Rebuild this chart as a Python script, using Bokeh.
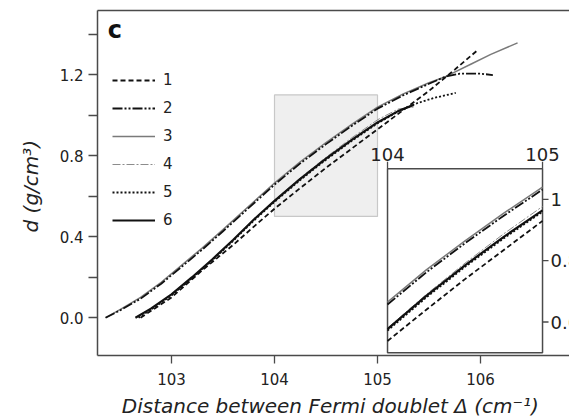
from bokeh.plotting import figure
from bokeh.models import (Range1d, LinearAxis, FixedTicker, PrintfTickFormatter,
                          Legend, LegendItem, Label)
from bokeh.embed import file_html
from bokeh.resources import INLINE
import math

# ---------------- data ----------------
x_up = [102.36, 102.5, 102.7, 102.9, 103.1, 103.3, 103.5, 103.75, 104.0, 104.25, 104.5, 104.75, 105.0, 105.25, 105.5, 105.66]
d3_core = [0.000, 0.040, 0.100, 0.175, 0.260, 0.345, 0.435, 0.550, 0.665, 0.770, 0.865, 0.955, 1.040, 1.105, 1.160, 1.190]
x3_tail = [105.9, 106.1, 106.36]
d3_tail = [1.250, 1.300, 1.357]
d2_core = [0.000, 0.036, 0.094, 0.168, 0.252, 0.337, 0.427, 0.542, 0.657, 0.762, 0.857, 0.947, 1.032, 1.098, 1.155, 1.190]
x2_tail = [105.8, 106.0, 106.12]
d2_tail = [1.205, 1.205, 1.198]

x_low = [102.65, 102.8, 103.0, 103.2, 103.4, 103.6, 103.8, 104.0, 104.25, 104.5, 104.75, 105.0, 105.2, 105.35]
d6 = [0.000, 0.045, 0.115, 0.200, 0.290, 0.385, 0.485, 0.577, 0.685, 0.785, 0.878, 0.964, 1.020, 1.050]
d4 = [0.000, 0.045, 0.115, 0.200, 0.290, 0.385, 0.485, 0.580, 0.690, 0.792, 0.888, 0.977, 1.030, 1.040]

x5 = [102.68, 102.8, 103.0, 103.2, 103.4, 103.6, 103.8, 104.0, 104.25, 104.5, 104.75, 105.0, 105.2, 105.39, 105.55, 105.76]
d5 = [0.000, 0.040, 0.110, 0.195, 0.285, 0.380, 0.480, 0.572, 0.680, 0.780, 0.873, 0.960, 1.018, 1.060, 1.085, 1.110]

x1 = [102.7, 103.0, 103.3, 103.6, 103.8, 104.0, 104.25, 104.5, 104.75, 105.0, 105.25, 105.5, 105.75, 105.97]
d1 = [0.000, 0.100, 0.235, 0.360, 0.450, 0.538, 0.640, 0.740, 0.835, 0.930, 1.025, 1.120, 1.225, 1.320]

labels = ["1", "2", "3", "4", "5", "6"]
x_ticks = [103, 104, 105, 106]
y_ticks = [0.0, 0.4, 0.8, 1.2]
y_minor = [0.2, 0.6, 1.0, 1.4]
zoom_x = [104.0, 105.0]
zoom_y = [0.5, 1.1]
inset_x_ticks = [104, 105]
inset_x_labels = ["104", "105"]
inset_y_ticks = [0.6, 0.8, 1.0]
inset_y_labels = ["0.6", "0.8", "1"]

FONT = "DejaVu Sans"
AX = "#4a4a4a"
TXT = "#222222"

p = figure(width=569, height=420, x_range=Range1d(102.2816, 106.864),
           y_range=Range1d(-0.1865, 1.5166), output_backend="svg",
           toolbar_location=None, min_border_left=97, min_border_right=0,
           min_border_top=10, min_border_bottom=63,
           x_axis_location=None, y_axis_location=None)
p.grid.visible = False
p.outline_line_color = None
p.background_fill_color = "white"
p.extra_x_ranges = {"ix": Range1d(102.129, 105.174)}
p.extra_y_ranges = {"iy": Range1d(0.4907, 1.6164)}

def style_axis(ax):
    ax.axis_line_color = AX
    ax.axis_line_width = 1.5
    ax.major_tick_line_color = AX
    ax.minor_tick_line_color = AX
    ax.major_tick_line_width = 1.3
    ax.minor_tick_line_width = 1.3
    ax.major_tick_in = 0
    ax.minor_tick_in = 0
    ax.major_label_text_font = FONT
    ax.major_label_text_font_size = "15px"
    ax.major_label_text_color = TXT
    ax.axis_label_text_font = FONT
    ax.axis_label_text_font_size = "20px"
    ax.axis_label_text_font_style = "italic"
    ax.axis_label_text_color = TXT

xa = LinearAxis(ticker=FixedTicker(ticks=x_ticks),
                axis_label="Distance between Fermi doublet  \u0394 (cm\u207b\u00b9)")
style_axis(xa)
xa.major_tick_out = 8
xa.major_label_standoff = 9
xa.axis_label_standoff = 6
p.add_layout(xa, "below")

ya = LinearAxis(ticker=FixedTicker(ticks=y_ticks, minor_ticks=y_minor),
                formatter=PrintfTickFormatter(format="%.1f"),
                axis_label="d  (g/cm\u00b3)")
style_axis(ya)
ya.major_tick_out = 9
ya.minor_tick_out = 9
ya.major_label_standoff = 5
ya.axis_label_standoff = 14
p.add_layout(ya, "left")

ta = LinearAxis(ticker=FixedTicker(ticks=[]))
style_axis(ta)
ta.major_tick_out = 0
ta.minor_tick_out = 0
ta.major_label_standoff = 0
p.add_layout(ta, "above")

# grey zoom region
p.quad(left=[zoom_x[0]], right=[zoom_x[1]], bottom=[zoom_y[0]], top=[zoom_y[1]],
       fill_color="#efefef", line_color="#c8c8c8", line_width=1.2)

styles = {
    "1": dict(line_color="#111111", line_width=1.8, line_dash="5 3"),
    "2": dict(line_color="#111111", line_width=1.8, line_dash="10 2 2 2 2 2"),
    "3": dict(line_color="#7a7a7a", line_width=1.5),
    "4": dict(line_color="#8c8c8c", line_width=1.0, line_dash="8 2 2 2"),
    "5": dict(line_color="#111111", line_width=1.8, line_dash="2 2"),
    "6": dict(line_color="#111111", line_width=2.2),
}

series = {
    "1": (x1, d1),
    "2": (x_up + x2_tail, d2_core + d2_tail),
    "3": (x_up + x3_tail, d3_core + d3_tail),
    "4": (x_low, d4),
    "5": (x5, d5),
    "6": (x_low, d6),
}

renderers = {}
for k in ["3", "4", "2", "5", "6", "1"]:
    xs, ys = series[k]
    renderers[k] = p.line(xs, ys, **styles[k])

# inset
p.quad(left=[zoom_x[0]], right=[zoom_x[1]], bottom=[zoom_y[0]], top=[zoom_y[1]],
       x_range_name="ix", y_range_name="iy",
       fill_color="white", line_color=AX, line_width=1.5)
for k in ["3", "4", "2", "5", "6", "1"]:
    xs, ys = series[k]
    pts = [(a, b) for a, b in zip(xs, ys) if zoom_x[0] <= a <= zoom_x[1]]
    p.line([a for a, _ in pts], [b for _, b in pts], x_range_name="ix", y_range_name="iy",
           **styles[k])

p.ray(x=inset_x_ticks, y=[zoom_y[1]] * len(inset_x_ticks), length=7, length_units="screen",
      angle=math.pi / 2, x_range_name="ix", y_range_name="iy", line_color=AX, line_width=1.3)
p.ray(x=[zoom_x[1]] * len(inset_y_ticks), y=inset_y_ticks, length=6, length_units="screen",
      angle=0, x_range_name="ix", y_range_name="iy", line_color=AX, line_width=1.3)
p.text(x=inset_x_ticks, y=[zoom_y[1]] * len(inset_x_ticks), text=inset_x_labels,
       x_range_name="ix", y_range_name="iy", y_offset=-8, text_align="center",
       text_baseline="bottom", text_font_size="18px", text_color=TXT,
       text_font={"value": FONT})
p.text(x=[zoom_x[1]] * len(inset_y_ticks), y=inset_y_ticks, text=inset_y_labels,
       x_range_name="ix", y_range_name="iy", x_offset=8, text_align="left",
       text_baseline="middle", text_font_size="18px", text_color=TXT,
       text_font={"value": FONT})

legend = Legend(items=[LegendItem(label=k, renderers=[renderers[k]]) for k in labels],
                location=(15, 125), glyph_width=43, glyph_height=20, label_height=20,
                spacing=8, padding=0, margin=0, label_standoff=8,
                label_text_font=FONT, label_text_font_size="15px",
                label_text_color=TXT,
                background_fill_alpha=0, border_line_alpha=0)
p.add_layout(legend)

p.add_layout(Label(x=102.38, y=1.42, text="c", text_font=FONT, text_font_size="24px",
                   text_font_style="bold", text_color="#111111", text_baseline="alphabetic"))

open("out.html", "w").write(file_html(p, INLINE))
